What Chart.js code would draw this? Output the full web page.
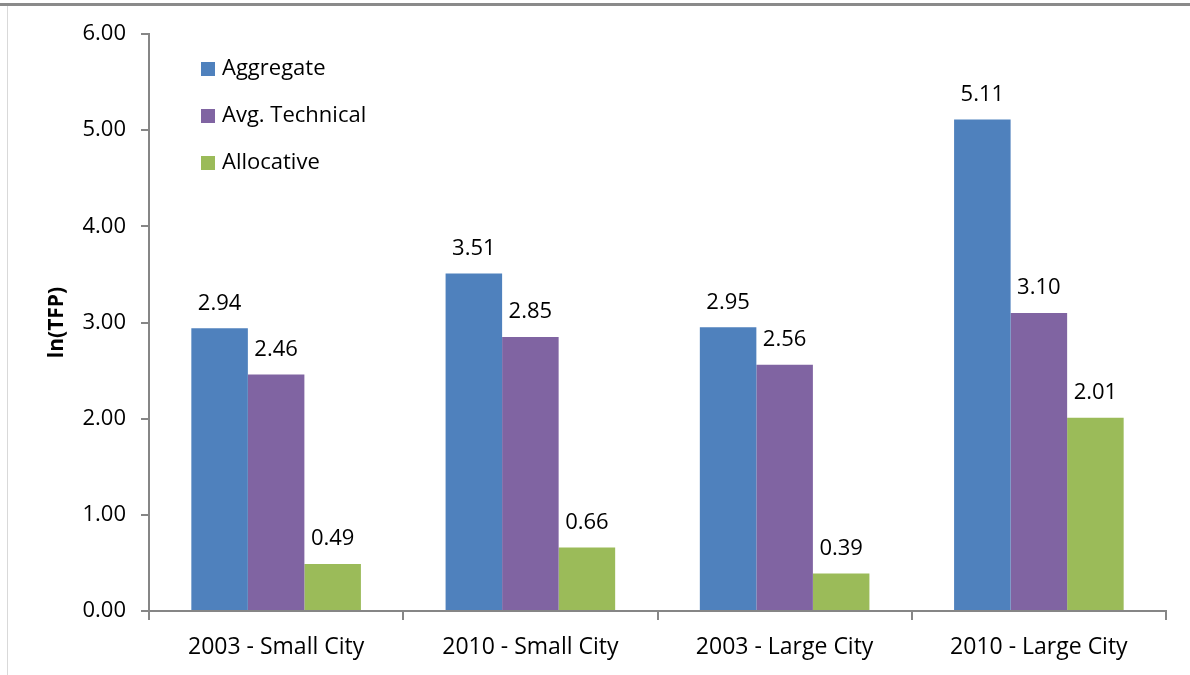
<!DOCTYPE html>
<html>
<head>
<meta charset="utf-8">
<script src="https://cdn.jsdelivr.net/npm/chart.js@4/dist/chart.umd.min.js"></script>
<style>
  html,body{margin:0;padding:0;background:#fff;}
  #wrap{position:relative;width:1190px;height:675px;overflow:hidden;}
  #topline{position:absolute;left:0;top:3px;width:1190px;height:3px;background:#8a8a8a;}
  #leftline{position:absolute;left:7px;top:6px;width:1px;height:669px;background:#d9d9d9;}
  canvas{position:absolute;left:0;top:0;}
</style>
</head>
<body>
<div id="wrap">
  <canvas id="c" width="1190" height="675"></canvas>
  <div id="topline"></div>
  <div id="leftline"></div>
</div>
<script>
const categories = ["2003 - Small City", "2010 - Small City", "2003 - Large City", "2010 - Large City"];
const aggregate = [2.94, 3.51, 2.95, 5.11];
const avgTechnical = [2.46, 2.85, 2.56, 3.10];
const allocative = [0.49, 0.66, 0.39, 2.01];
const seriesNames = ["Aggregate", "Avg. Technical", "Allocative"];
const yTicks = [0, 1, 2, 3, 4, 5, 6];
const yTitle = "ln(TFP)";

const FONT = "'Open Sans', 'Noto Sans', sans-serif";
const colors = ["#4F81BD", "#8064A2", "#9BBB59"];
const axisColor = "#868686";

const valueLabels = {
  id: "valueLabels",
  afterDatasetsDraw(chart) {
    const ctx = chart.ctx;
    ctx.save();
    ctx.font = "22px " + FONT;
    ctx.fillStyle = "#000";
    ctx.textAlign = "center";
    ctx.textBaseline = "middle";
    chart.data.datasets.forEach((ds, i) => {
      chart.getDatasetMeta(i).data.forEach((bar, j) => {
        ctx.fillText(ds.data[j].toFixed(2), bar.x, bar.y - 25);
      });
    });
    ctx.restore();
  }
};

const insideLegend = {
  id: "insideLegend",
  afterDraw(chart) {
    const ctx = chart.ctx;
    ctx.save();
    ctx.font = "22px " + FONT;
    ctx.textBaseline = "middle";
    ctx.textAlign = "left";
    chart.data.datasets.forEach((ds, i) => {
      const y = 69 + i * 47;
      ctx.fillStyle = ds.backgroundColor;
      ctx.fillRect(201, y - 7, 14, 14);
      ctx.fillStyle = "#000";
      ctx.fillText(ds.label, 222, y);
    });
    ctx.restore();
  }
};

new Chart(document.getElementById("c"), {
  type: "bar",
  data: {
    labels: categories,
    datasets: [
      { label: seriesNames[0], data: aggregate, backgroundColor: colors[0] },
      { label: seriesNames[1], data: avgTechnical, backgroundColor: colors[1] },
      { label: seriesNames[2], data: allocative, backgroundColor: colors[2] }
    ]
  },
  options: {
    responsive: false,
    animation: false,
    devicePixelRatio: 1,
    layout: { padding: { top: 34, right: 24, left: 0, bottom: 0 } },
    datasets: { bar: { categoryPercentage: 0.667, barPercentage: 1.0, borderWidth: 0 } },
    plugins: { legend: { display: false }, tooltip: { enabled: false } },
    scales: {
      x: {
        offset: true,
        grid: { offset: true, drawOnChartArea: false, drawTicks: true, tickLength: 9, color: axisColor, lineWidth: 2 },
        border: { color: axisColor, width: 2 },
        ticks: { color: "#000", font: { family: FONT, size: 23 }, padding: 14, maxRotation: 0 },
        afterFit(s) { s.height = 64; }
      },
      y: {
        min: 0, max: 6,
        afterBuildTicks(s) { s.ticks = yTicks.map(v => ({ value: v })); },
        grid: { drawOnChartArea: false, drawTicks: true, tickLength: 8, color: axisColor, lineWidth: 2 },
        border: { color: axisColor, width: 2 },
        ticks: { color: "#000", font: { family: FONT, size: 22 }, padding: 15, callback: v => Number(v).toFixed(2) },
        title: { display: true, text: yTitle, color: "#000", font: { family: FONT, size: 21, weight: "bold" }, padding: { top: 44, bottom: 0 } },
        afterFit(s) { s.width = 149; }
      }
    }
  },
  plugins: [valueLabels, insideLegend]
});
</script>
</body>
</html>
